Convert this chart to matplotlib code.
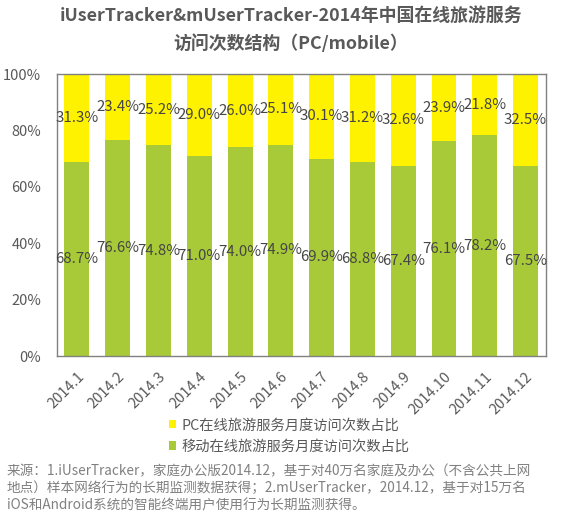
import matplotlib
matplotlib.use("Agg")
import matplotlib.pyplot as plt
import numpy as np

plt.rcParams['font.family'] = ['Noto Sans CJK SC', 'DejaVu Sans']

months = ["2014.1", "2014.2", "2014.3", "2014.4", "2014.5", "2014.6",
          "2014.7", "2014.8", "2014.9", "2014.10", "2014.11", "2014.12"]
pc = [31.3, 23.4, 25.2, 29.0, 26.0, 25.1, 30.1, 31.2, 32.6, 23.9, 21.8, 32.5]
mobile = [68.7, 76.6, 74.8, 71.0, 74.0, 74.9, 69.9, 68.8, 67.4, 76.1, 78.2, 67.5]
yticks = [0, 20, 40, 60, 80, 100]
series_names = ["PC在线旅游服务月度访问次数占比", "移动在线旅游服务月度访问次数占比"]
title1 = "iUserTracker&mUserTracker-2014年中国在线旅游服务"
title2 = "访问次数结构（PC/mobile）"
source = ("来源：1.iUserTracker，家庭办公版2014.12，基于对40万名家庭及办公（不含公共上网\n"
          "地点）样本网络行为的长期监测数据获得；2.mUserTracker，2014.12，基于对15万名\n"
          "iOS和Android系统的智能终端用户使用行为长期监测获得。")

yellow = "#FFF200"
green = "#A9CA38"
textc = "#595959"

fig = plt.figure(figsize=(5.82, 5.23), dpi=100)
ax = fig.add_axes([0.0971, 0.3193, 0.841, 0.5392])
x = np.arange(len(months))
w = 0.61
b1 = ax.bar(x, mobile, w, color=green, label=series_names[1], zorder=2)
b2 = ax.bar(x, pc, w, bottom=mobile, color=yellow, label=series_names[0], zorder=2)

for i in range(len(months)):
    ax.text(x[i], mobile[i] / 2, f"{mobile[i]:.1f}%", ha="center", va="center",
            fontsize=10.8, fontweight="light", color="#454545", zorder=3)
    ax.text(x[i], mobile[i] + pc[i] / 2, f"{pc[i]:.1f}%", ha="center", va="center",
            fontsize=10.8, fontweight="light", color="#454545", zorder=3)

ax.set_xlim(-0.5, len(months) - 0.5)
ax.set_ylim(0, 100)
ax.set_yticks(yticks)
ax.set_yticklabels([f"{v}%" for v in yticks], fontsize=10.5, color=textc)
ax.set_xticks(x)
ax.set_xticklabels(months, rotation=45, ha="right", rotation_mode="anchor",
                   fontsize=10.5, color=textc)
ax.tick_params(axis="y", length=0, pad=11)
ax.tick_params(axis="x", length=0, pad=10)
for s in ax.spines.values():
    s.set_color("#808080")
    s.set_linewidth(1)

fig.text(0.5, 0.969, title1, ha="center", va="center", fontsize=12.9,
         fontweight="bold", color="#595959")
fig.text(0.5, 0.917, title2, ha="center", va="center", fontsize=12.9,
         fontweight="bold", color="#595959")

handles = [b2, b1]
leg = fig.legend(handles, series_names, loc="upper left", bbox_to_anchor=(0.281, 0.211),
                 frameon=False, fontsize=10.3, handlelength=0.5, handleheight=0.5,
                 handletextpad=0.35, labelspacing=0.5, borderaxespad=0)
for t in leg.get_texts():
    t.set_color(textc)

fig.text(0.012, 0.021, source, ha="left", va="bottom", fontsize=9.8, color="#808080",
         linespacing=1.25)

fig.savefig("out.png", dpi=100)
